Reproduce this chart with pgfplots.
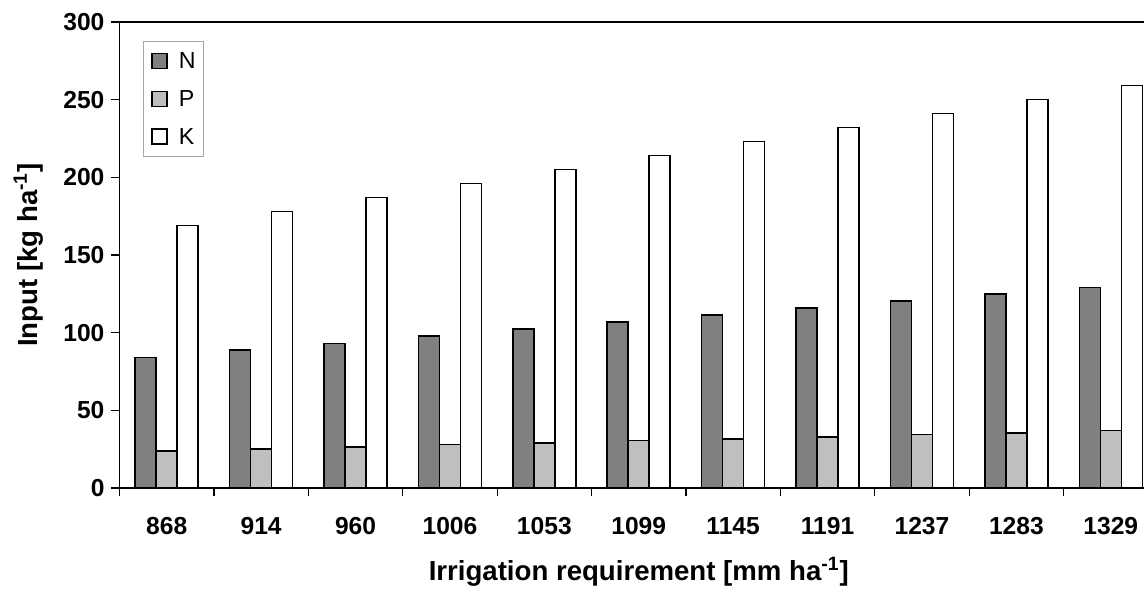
\documentclass[border=0pt]{standalone}
\usepackage{pgfplots}
\pgfplotsset{compat=1.18}
\usepackage{fontspec}
\setmainfont{Liberation Sans}
\begin{document}
\begin{tikzpicture}
\begin{axis}[
  at={(0,0)}, anchor=south west,
  scale only axis, width=519.25pt, height=233pt,
  xmin=-0.5, xmax=10.5, ymin=0, ymax=300,
  ytick={0,50,...,300},
  xtick={0,...,10},
  xticklabels={868,914,960,1006,1053,1099,1145,1191,1237,1283,1329},
  major x tick style={draw=none},
  minor xtick={-0.5,0.5,...,10.5},
  minor tick length=4pt,
  major tick length=4pt,
  tick align=outside,
  xtick pos=bottom, ytick pos=left,
  tick style={black, line width=0.6pt},
  axis line style={black, line width=0.9pt},
  /pgf/number format/assume math mode=true,
  ticklabel style={font=\fontsize{12.3}{14}\selectfont\bfseries},
  xticklabel style={anchor=base, yshift=-19.5pt},
  label style={font=\fontsize{13.8}{16}\selectfont\bfseries},
  xlabel={Irrigation requirement [mm ha\textsuperscript{-1}]},
  ylabel={Input [kg ha\textsuperscript{-1}]},
  xlabel style={at={(axis description cs:0.5,0)}, anchor=center, yshift=-42pt},
  ylabel style={at={(axis description cs:0,0.5)}, anchor=center, yshift=45.5pt},
  ybar, bar width=10.5pt,
  legend style={at={(0.0224,0.9585)}, anchor=north west, draw=gray!70, line width=0.5pt,
    font=\fontsize{11.6}{13}\selectfont,
    nodes={inner sep=0pt, text height=8pt, text depth=0pt},
    row sep=10.6pt, inner xsep=4pt, inner ysep=5.5pt},
  legend cell align=left,
  legend image code/.code={\draw[#1, line width=0.8pt] (0pt,-3.9pt) rectangle (7.5pt,3.6pt);},
  /tikz/every odd column/.append style={column sep=5.5pt},
  /tikz/every even column/.append style={column sep=5pt},
]
\addplot[fill=black!50, draw=black, line width=0.8pt, bar shift=-10.5pt] coordinates {
(0,84) (1,89) (2,93) (3,98) (4,102.5) (5,107) (6,111.5) (7,116) (8,120.5) (9,125) (10,129)};
\addplot[fill=black!25, draw=black, line width=0.8pt, bar shift=0pt] coordinates {
(0,24) (1,25) (2,26.5) (3,28) (4,29) (5,30.5) (6,31.5) (7,33) (8,34.5) (9,35.5) (10,37)};
\addplot[fill=white, draw=black, line width=0.8pt, bar shift=10.5pt] coordinates {
(0,169) (1,178) (2,187) (3,196) (4,205) (5,214) (6,223) (7,232) (8,241) (9,250) (10,259)};
\legend{N,P,K}
\end{axis}
\pgfresetboundingbox
\useasboundingbox (-59.75pt,-52pt) rectangle (512.25pt,244pt);
\end{tikzpicture}
\end{document}
